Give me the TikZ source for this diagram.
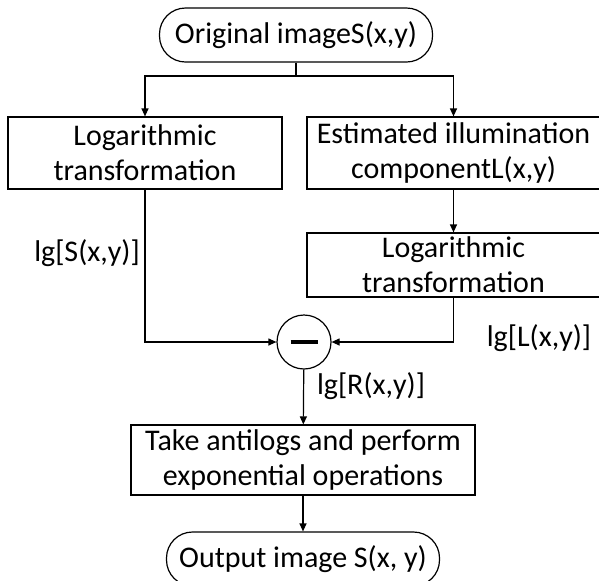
\documentclass[tikz,border=0pt]{standalone}
\usepackage{fontspec}
\setmainfont{Carlito}
\usetikzlibrary{arrows.meta}

\begin{document}
\begin{tikzpicture}[
  x=0.5pt, y=-0.5pt,
  font=\fontsize{15pt}{17.5pt}\selectfont,
  box/.style={draw, rectangle, align=center, inner sep=0pt, line width=0.6pt},
  terminal/.style={draw, rectangle, rounded corners=13pt, minimum width=136.5pt,
    minimum height=27pt, inner sep=0pt, line width=0.6pt},
  arrow/.style={-{Triangle[length=4pt, width=3.5pt]}, line width=0.6pt},
  wire/.style={line width=0.6pt},
  tag/.style={inner sep=0pt}
]
\useasboundingbox (0,0) rectangle (599,580);

% Input image
\node[terminal] (orig) at (296,35) {Original imageS(x,y)};

% Two branches: log of the image, and the illumination estimate
\node[box, minimum width=137pt, minimum height=36pt] (log1) at (145,153)
  {Logarithmic\\transformation};
\node[box, minimum width=146.5pt, minimum height=36pt] (est) at (453.5,153)
  {Estimated illumination\\componentL(x,y)};
\node[box, minimum width=146.5pt, minimum height=32pt] (log2) at (453.5,265)
  {Logarithmic\\transformation};

% Subtraction
\node[draw, circle, minimum size=27pt, inner sep=0pt, line width=0.6pt] (sub) at (304,342)
  {\rule{13.5pt}{1.6pt}};

% Output stage
\node[box, minimum width=172pt, minimum height=35pt] (anti) at (303,460)
  {Take antilogs and perform\\exponential operations};
\node[terminal] (out) at (303,559) {Output image S(x, y)};

% Fork below the input
\coordinate (fork) at (296,76);
\draw[wire] (orig) -- (fork);
\draw[arrow] (fork) -| (log1);
\draw[arrow] (fork) -| (est);
\draw[arrow] (est) -- (log2);

% Into the subtraction
\draw[arrow] (log1) |- (sub);
\draw[arrow] (log2) |- (sub);
\draw[arrow] (sub) -- (anti);
\draw[arrow] (anti) -- (out);

% Signal labels
\node[tag] (labS) at (87,253) {lg[S(x,y)]};
\node[tag] (labL) at (539,338) {lg[L(x,y)]};
\node[tag] (labR) at (371,386) {lg[R(x,y)]};

\end{tikzpicture}
\end{document}
